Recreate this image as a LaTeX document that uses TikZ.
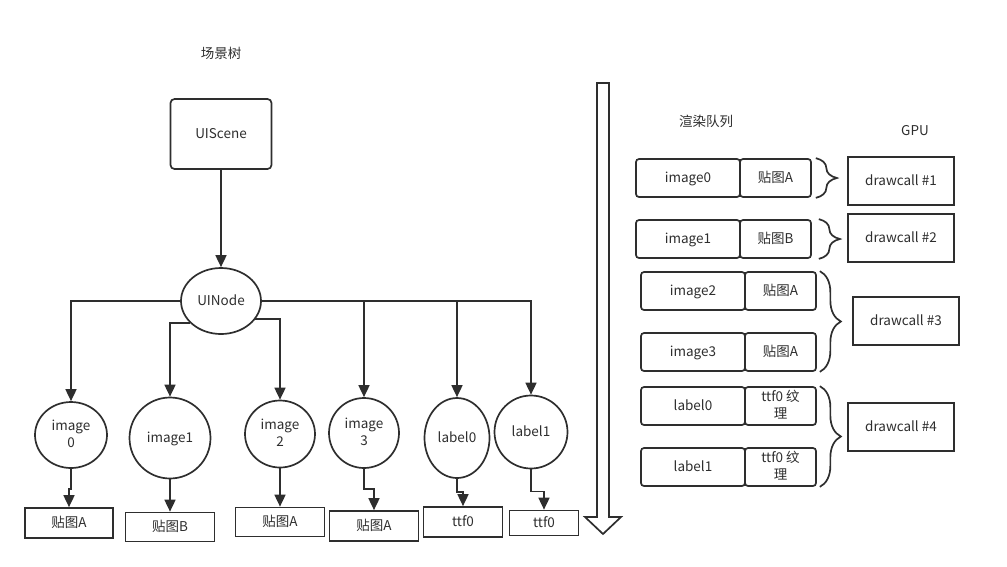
\documentclass[tikz,border=0pt]{standalone}
\usepackage{fontspec}
\setmainfont{Noto Sans CJK SC}
\usetikzlibrary{arrows.meta,positioning,shapes.geometric,decorations.pathreplacing}
\definecolor{ink}{HTML}{2E2E2E}
\tikzset{
  arr/.style={-{Triangle[length=12pt,width=11pt]}},
  oval/.style={ellipse,draw,inner sep=0pt,align=center},
  tree/.style={rectangle,draw,inner sep=0pt,rounded corners=4pt},
  texbox/.style={rectangle,draw,inner sep=0pt},
  item/.style={rectangle,draw,inner sep=0pt,rounded corners=3pt,minimum width=104pt,minimum height=38pt,align=center},
  itemtex/.style={item,minimum width=71pt},
  gpu/.style={rectangle,draw,inner sep=0pt,minimum width=106pt,minimum height=48pt},
  brace/.style={decorate,decoration={brace,amplitude=21pt}},
  twolines/.style={text height=24pt,text depth=0pt}
}
\begin{document}
\begin{tikzpicture}[x=1pt,y=-1pt,line width=1.7pt,color=ink,
    every node/.style={font=\fontsize{13.5}{16.5}\selectfont,text height=9.5pt,text depth=0pt}]
  \useasboundingbox (0,0) rectangle (1007,566);
  % scene tree
  \node (treetitle) at (221,54) {场景树};
  \node[tree,minimum width=101pt,minimum height=70pt] (scene) at (221,134) {UIScene};
  \node[oval,minimum width=80pt,minimum height=66pt] (uinode) at (221,301) {UINode};
  \begin{scope}[every node/.append style={oval}]
    \node[twolines,minimum width=72pt,minimum height=66pt] (img0) at (71,435) {image\\0};
    \node[minimum width=81pt,minimum height=81pt] (img1) at (170,438) {image1};
    \node[twolines,minimum width=70pt,minimum height=67pt] (img2) at (280,434) {image\\2};
    \node[twolines,minimum width=70pt,minimum height=70pt] (img3) at (364,433) {image\\3};
    \node[minimum width=65pt,minimum height=80pt] (lab0) at (457,438) {label0};
    \node[minimum width=73pt,minimum height=73pt] (lab1) at (531,432) {label1};
  \end{scope}
  \begin{scope}[every node/.append style={texbox}]
    \node[minimum width=88pt,minimum height=30pt] (tex0) at (69,523) {贴图A};
    \node[minimum width=89pt,minimum height=29pt] (tex1) at (170,527) {贴图B};
    \node[minimum width=89pt,minimum height=29pt] (tex2) at (280,522) {贴图A};
    \node[minimum width=89pt,minimum height=30pt] (tex3) at (374,526) {贴图A};
    \node[minimum width=79pt,minimum height=30pt] (tex4) at (463,522) {ttf0};
    \node[minimum width=69pt,minimum height=25pt] (tex5) at (544,523) {ttf0};
  \end{scope}
  \draw[arr] (scene) -- (uinode);
  \draw[arr] (uinode.west) -| (img0.north);
  \draw[arr] (uinode.216) -| (img1.north);
  \draw[arr] (uinode.-28) -| (img2.north);
  \draw[arr] (uinode.east) -| (img3.north);
  \draw[arr] (uinode.east) -| (lab0.north);
  \draw[arr] (uinode.east) -| (lab1.north);
  \draw[arr] (img0.south) -- ++(0,20) -| (tex0.north);
  \draw[arr] (img1.south) -- (tex1.north);
  \draw[arr] (img2.south) -- (tex2.north);
  \draw[arr] (img3.south) -- ++(0,20) -| (tex3.north);
  \draw[arr] (lab0.south) -- ++(0,13) -| (tex4.north);
  \draw[arr] (lab1.south) -- ++(0,22) -| (tex5.north);
  % big hollow arrow
  \draw[fill=white] (597,83) -- (609,83) -- (609,517) -- (621,517) -- (603,534)
    -- (585,517) -- (597,517) -- cycle;
  % render queue
  \node (queuetitle) at (706,122) {渲染队列};
  \node (gputitle) at (915,131) {GPU};
  \node[item] (q0) at (688,178) {image0};
  \node[itemtex,right=-1.7pt of q0] (qt0) {贴图A};
  \node[item] (q1) at (688,239) {image1};
  \node[itemtex,right=-1.7pt of q1] (qt1) {贴图B};
  \node[item] (q2) at (693,291) {image2};
  \node[itemtex,right=-1.7pt of q2] (qt2) {贴图A};
  \node[item] (q3) at (693,352) {image3};
  \node[itemtex,right=-1.7pt of q3] (qt3) {贴图A};
  \node[item] (q4) at (693,406) {label0};
  \node[itemtex,twolines,right=-1.7pt of q4] (qt4) {ttf0 纹\\理};
  \node[item] (q5) at (693,467) {label1};
  \node[itemtex,twolines,right=-1.7pt of q5] (qt5) {ttf0 纹\\理};
  \node[gpu] (dc1) at (901,181) {drawcall \#1};
  \node[gpu] (dc2) at (901,238) {drawcall \#2};
  \node[gpu] (dc3) at (906,321) {drawcall \#3};
  \node[gpu] (dc4) at (901,427) {drawcall \#4};
  \draw[brace] ([xshift=4pt]qt0.north east) -- ([xshift=4pt]qt0.south east);
  \draw[brace] ([xshift=7pt]qt1.north east) -- ([xshift=7pt]qt1.south east);
  \draw[brace] ([xshift=3pt]qt2.north east) -- ([xshift=3pt]qt3.south east);
  \draw[brace] ([xshift=3pt]qt4.north east) -- ([xshift=3pt]qt5.south east);
\end{tikzpicture}
\end{document}
